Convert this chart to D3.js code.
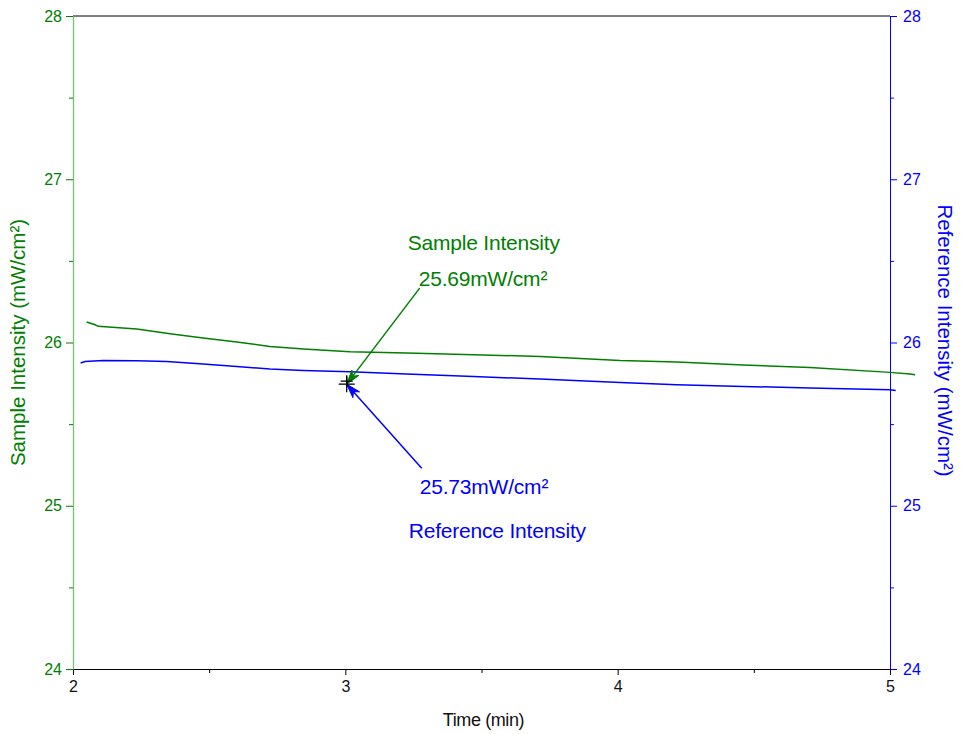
<!DOCTYPE html>
<html>
<head>
<meta charset="utf-8">
<script src="https://cdn.jsdelivr.net/npm/d3@7"></script>
<style>
  html, body { margin: 0; padding: 0; background: #fff; }
  svg { display: block; }
  text { font-family: Arial, "Liberation Sans", sans-serif; }
</style>
</head>
<body>
<svg id="chart" width="961" height="734"></svg>
<script>
// ---- data ----
const sampleTime  = [2.050, 2.081, 2.093, 2.234, 2.356, 2.478, 2.601, 2.723, 2.846, 3.017, 3.225, 3.470, 3.715, 4.009, 4.217, 4.461, 4.706, 5.000, 5.073, 5.092];
const sampleValue = [26.126, 26.109, 26.099, 26.083, 26.054, 26.028, 26.003, 25.976, 25.960, 25.944, 25.936, 25.925, 25.915, 25.890, 25.880, 25.862, 25.847, 25.817, 25.807, 25.803];
const refTime     = [2.028, 2.044, 2.111, 2.234, 2.344, 2.478, 2.601, 2.723, 2.846, 3.017, 3.225, 3.470, 3.715, 4.009, 4.217, 4.461, 4.706, 5.000, 5.021];
const refValue    = [25.874, 25.884, 25.890, 25.888, 25.884, 25.868, 25.853, 25.838, 25.829, 25.821, 25.807, 25.792, 25.776, 25.755, 25.741, 25.731, 25.721, 25.711, 25.706];

const xTicks = [2, 3, 4, 5];
const xMinorTicks = [2.5, 3.5, 4.5];
const yTicks = [24, 25, 26, 27, 28];
const yMinorTicks = [24.5, 25.5, 26.5, 27.5];

const cursorTime = [3.005];
const cursorValue = [25.745];
const sampleLabel = ["Sample Intensity", "25.69mW/cm²"];
const refLabel = ["25.73mW/cm²", "Reference Intensity"];

const xTitle = "Time (min)";
const yLeftTitle = "Sample Intensity (mW/cm²)";
const yRightTitle = "Reference Intensity (mW/cm²)";

// ---- layout ----
const W = 961, H = 734;
const m = { left: 73, right: 71, top: 16, bottom: 65 };
const GREEN = "#008000", BLUE = "#0000ff", GREEN_AXIS = "#78c078";

const svg = d3.select("#chart");
const x = d3.scaleLinear().domain([2, 5]).range([m.left, W - m.right]);
const yL = d3.scaleLinear().domain([24, 28]).range([H - m.bottom, m.top]);
const yR = d3.scaleLinear().domain([24, 28]).range([H - m.bottom, m.top]);

// top frame line
svg.append("line")
  .attr("x1", x(2)).attr("x2", x(5)).attr("y1", yL(28)).attr("y2", yL(28))
  .attr("stroke", "#000").attr("stroke-width", 1);

// bottom axis
const gx = svg.append("g").attr("transform", `translate(0,${yL(24)})`)
  .call(d3.axisBottom(x).tickValues(xTicks).tickFormat(d3.format("d")).tickSize(6).tickSizeOuter(0).tickPadding(6));
gx.select(".domain").attr("stroke", "#000");
gx.selectAll(".tick line").attr("stroke", "#000");
gx.selectAll(".tick text").attr("fill", "#111").style("font-size", "16px");
const gxm = svg.append("g").attr("transform", `translate(0,${yL(24)})`)
  .call(d3.axisBottom(x).tickValues(xMinorTicks).tickFormat("").tickSize(4).tickSizeOuter(0));
gxm.select(".domain").remove();
gxm.selectAll(".tick line").attr("stroke", "#000");

// left axis
const gl = svg.append("g").attr("transform", `translate(${x(2)},0)`)
  .call(d3.axisLeft(yL).tickValues(yTicks).tickFormat(d3.format("d")).tickSize(7).tickSizeOuter(0).tickPadding(4));
gl.select(".domain").attr("stroke", GREEN_AXIS).attr("stroke-width", 1.3);
gl.selectAll(".tick line").attr("stroke", GREEN);
gl.selectAll(".tick text").attr("fill", GREEN).style("font-size", "16px");
const glm = svg.append("g").attr("transform", `translate(${x(2)},0)`)
  .call(d3.axisLeft(yL).tickValues(yMinorTicks).tickFormat("").tickSize(4).tickSizeOuter(0));
glm.select(".domain").remove();
glm.selectAll(".tick line").attr("stroke", GREEN);

// right axis
const gr = svg.append("g").attr("transform", `translate(${x(5)},0)`)
  .call(d3.axisRight(yR).tickValues(yTicks).tickFormat(d3.format("d")).tickSize(7).tickSizeOuter(0).tickPadding(6));
gr.select(".domain").attr("stroke", BLUE).attr("stroke-width", 1);
gr.selectAll(".tick line").attr("stroke", BLUE);
gr.selectAll(".tick text").attr("fill", BLUE).style("font-size", "16px");
const grm = svg.append("g").attr("transform", `translate(${x(5)},0)`)
  .call(d3.axisRight(yR).tickValues(yMinorTicks).tickFormat("").tickSize(4).tickSizeOuter(0));
grm.select(".domain").remove();
grm.selectAll(".tick line").attr("stroke", BLUE);

// axis titles
svg.append("text")
  .attr("x", (x(2) + x(5)) / 2 + 2).attr("y", 726)
  .attr("text-anchor", "middle").attr("fill", "#111")
  .style("font-size", "18px").style("letter-spacing", "-0.4px")
  .text(xTitle);
svg.append("text")
  .attr("transform", `translate(25,${(yL(24) + yL(28)) / 2}) rotate(-90)`)
  .attr("text-anchor", "middle").attr("fill", GREEN)
  .style("font-size", "20.5px")
  .text(yLeftTitle);
svg.append("text")
  .attr("transform", `translate(938,${(yR(24) + yR(28)) / 2 - 2}) rotate(90)`)
  .attr("text-anchor", "middle").attr("fill", BLUE)
  .style("font-size", "20.5px")
  .text(yRightTitle);

// data lines
const lineS = d3.line().x(d => x(d[0])).y(d => yL(d[1]));
const lineR = d3.line().x(d => x(d[0])).y(d => yR(d[1]));
svg.append("path")
  .datum(d3.zip(refTime, refValue))
  .attr("fill", "none").attr("stroke", BLUE).attr("stroke-width", 1.5)
  .attr("d", lineR);
svg.append("path")
  .datum(d3.zip(sampleTime, sampleValue))
  .attr("fill", "none").attr("stroke", GREEN).attr("stroke-width", 1.5)
  .attr("d", lineS);

// annotation
const ax = x(cursorTime[0]), ay = yL(cursorValue[0]);

function arrow(tx, ty, color) {
  // line from tail (tx,ty) to anchor with arrowhead at anchor
  svg.append("line")
    .attr("x1", tx).attr("y1", ty).attr("x2", ax).attr("y2", ay)
    .attr("stroke", color).attr("stroke-width", 1.5);
  const ang = Math.atan2(ty - ay, tx - ax);
  const len = 15, half = 0.3;
  const p1 = [ax + len * Math.cos(ang + half), ay + len * Math.sin(ang + half)];
  const p2 = [ax + len * Math.cos(ang - half), ay + len * Math.sin(ang - half)];
  const pm = [ax + 10 * Math.cos(ang), ay + 10 * Math.sin(ang)];
  svg.append("path")
    .attr("d", `M${ax},${ay}L${p1[0]},${p1[1]}L${pm[0]},${pm[1]}L${p2[0]},${p2[1]}Z`)
    .attr("fill", color).attr("stroke", color).attr("stroke-width", 1);
}
arrow(ax + 73, ay - 96, GREEN);
arrow(ax + 75, ay + 84, BLUE);

// cursor cross
[[0, 0], [0, -3]].forEach(([dx, dy], i) => {
  const s = i === 0 ? 8 : 6;
  svg.append("line").attr("x1", ax + dx - s).attr("x2", ax + dx + s).attr("y1", ay + dy).attr("y2", ay + dy)
    .attr("stroke", "#000").attr("stroke-width", 1.3);
  svg.append("line").attr("x1", ax + dx).attr("x2", ax + dx).attr("y1", ay + dy - s).attr("y2", ay + dy + s)
    .attr("stroke", "#000").attr("stroke-width", 1.3);
});

svg.append("text").attr("x", ax + 61).attr("y", ay - 134).attr("fill", GREEN)
  .style("font-size", "21px").style("letter-spacing", "-0.2px").text(sampleLabel[0]);
svg.append("text").attr("x", ax + 72).attr("y", ay - 98).attr("fill", GREEN)
  .style("font-size", "21px").style("letter-spacing", "-0.2px").text(sampleLabel[1]);
svg.append("text").attr("x", ax + 73).attr("y", ay + 110).attr("fill", BLUE)
  .style("font-size", "21px").style("letter-spacing", "-0.2px").text(refLabel[0]);
svg.append("text").attr("x", ax + 62).attr("y", ay + 154).attr("fill", BLUE)
  .style("font-size", "21px").style("letter-spacing", "-0.2px").text(refLabel[1]);
</script>
</body>
</html>
